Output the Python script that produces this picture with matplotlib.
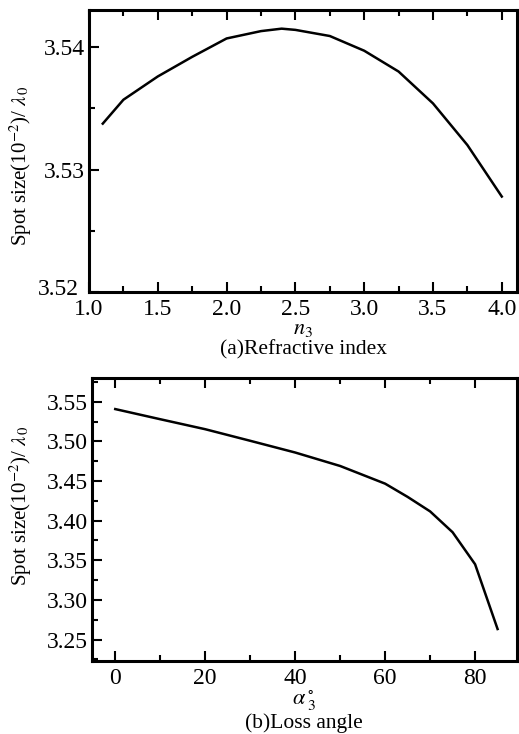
import matplotlib
matplotlib.use("Agg")
import matplotlib.pyplot as plt
import matplotlib.transforms as mtrans
from matplotlib.ticker import MultipleLocator, FormatStrFormatter

plt.rcParams['font.family'] = ['Liberation Serif', 'DejaVu Serif']
plt.rcParams['mathtext.fontset'] = 'stix'

# (a) refractive index
n3 = [1.1, 1.25, 1.5, 1.75, 2.0, 2.25, 2.4, 2.5, 2.75, 3.0, 3.25, 3.5, 3.75, 4.0]
spot_a = [3.53375, 3.5357, 3.5376, 3.5392, 3.5407, 3.5413, 3.5415, 3.5414,
          3.5409, 3.5397, 3.5380, 3.5354, 3.5320, 3.5278]

# (b) loss angle
alpha3 = [0, 10, 20, 30, 40, 50, 60, 65, 70, 75, 80, 85]
spot_b = [3.5408, 3.528, 3.5154, 3.5008, 3.486, 3.469, 3.4467, 3.43,
          3.4117, 3.3854, 3.345, 3.2633]

fig = plt.figure(figsize=(5.19, 7.34), dpi=100)
ax1 = fig.add_axes([0.1715, 0.602, 0.8245, 0.384])
ax2 = fig.add_axes([0.177, 0.0995, 0.819, 0.3855])

ylab = r'Spot size(10$^{-2}$)/ $\lambda_{\,0}$'

for ax in (ax1, ax2):
    for s in ax.spines.values():
        s.set_linewidth(2.2)
    ax.tick_params(which='both', direction='in', top=True, right=False,
                   labelsize=17, width=1.5)
    ax.tick_params(axis='x', which='major', pad=5)
    ax.tick_params(axis='y', which='major', pad=3)
    ax.tick_params(which='major', length=7)
    ax.tick_params(which='minor', length=4)

ax1.plot(n3, spot_a, color='black', lw=1.8)
ax1.set_xlim(1.0, 4.11)
ax1.set_ylim(3.52, 3.543)
ax1.xaxis.set_major_locator(MultipleLocator(0.5))
ax1.xaxis.set_minor_locator(MultipleLocator(0.25))
ax1.yaxis.set_major_locator(MultipleLocator(0.01))
ax1.yaxis.set_minor_locator(MultipleLocator(0.005))
ax1.xaxis.set_major_formatter(FormatStrFormatter('%.1f'))
ax1.yaxis.set_major_formatter(FormatStrFormatter('%.2f'))
ax1.set_xlabel(r'$n_3$', fontsize=16, labelpad=0)
ax1.set_ylabel(ylab, fontsize=15)
ax1.yaxis.set_label_coords(-0.128, 0.45)

ax2.plot(alpha3, spot_b, color='black', lw=1.8)
ax2.set_xlim(-5.2, 89.3)
ax2.set_ylim(3.223, 3.58)
ax2.xaxis.set_major_locator(MultipleLocator(20))
ax2.xaxis.set_minor_locator(MultipleLocator(10))
ax2.yaxis.set_major_locator(MultipleLocator(0.05))
ax2.yaxis.set_minor_locator(MultipleLocator(0.025))
ax2.yaxis.set_major_formatter(FormatStrFormatter('%.2f'))
ax2.set_xlabel(r'$\alpha\,_3^{\circ}$', fontsize=16, labelpad=0)
ax2.set_ylabel(ylab, fontsize=15)
ax2.yaxis.set_label_coords(-0.135, 0.55)

fig.text(0.585, 0.523, '(a)Refractive index', ha='center', va='center', fontsize=15.5)
fig.text(0.585, 0.015, '(b)Loss angle', ha='center', va='center', fontsize=15.5)

# nudge the lowest y label of (a) up-left so it clears the "1.0" label
fig.canvas.draw()
off = mtrans.ScaledTranslation(-4 / 72, 4 / 72, fig.dpi_scale_trans)
for lab in ax1.get_yticklabels():
    if lab.get_text() == '3.52':
        lab.set_transform(lab.get_transform() + off)

fig.savefig('out.png', dpi=100)
